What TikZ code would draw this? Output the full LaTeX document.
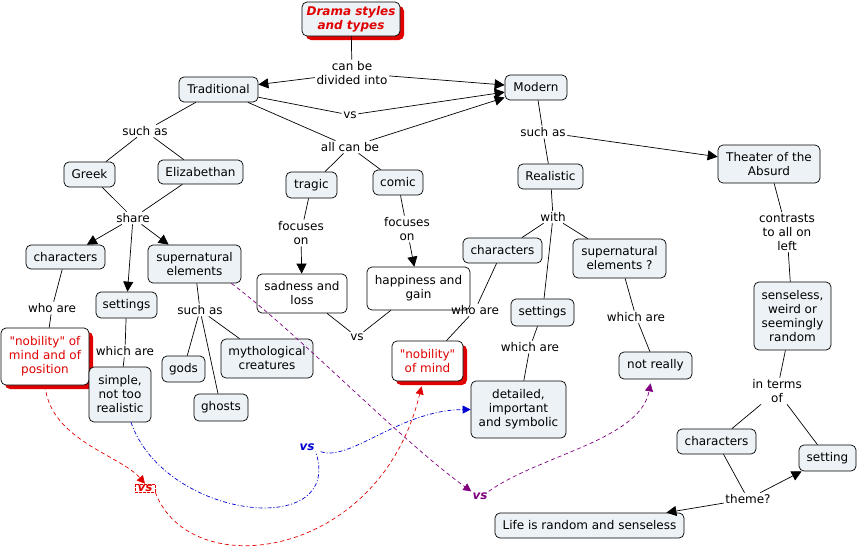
\documentclass[tikz,border=0pt]{standalone}
\usepackage{fontspec}
\setmainfont{DejaVu Sans}[Ligatures=TeXOff]
\usetikzlibrary{arrows.meta,shadows}
\definecolor{nodefill}{RGB}{236,242,245}
\definecolor{cmred}{RGB}{225,0,0}
\definecolor{cmblue}{RGB}{0,0,210}
\definecolor{cmpurple}{RGB}{128,0,128}
\begin{document}
\begin{tikzpicture}[x=1pt,y=-1pt,
 every node/.style={font=\fontsize{12}{14}\selectfont, align=center},
 box/.style={draw, rounded corners=5pt, fill=nodefill, inner sep=1pt, line width=0.7pt},
 wbox/.style={box, fill=white},
 redbox/.style={wbox, text=cmred, drop shadow={shadow xshift=4pt, shadow yshift=-4pt, fill=cmred, opacity=1}},
 lab/.style={fill=white, inner sep=1.5pt},
 ln/.style={line width=0.7pt},
 arr/.style={ln, -{Triangle[length=10pt,width=10pt]}},
 darr/.style={line width=0.7pt, -{Triangle[length=8pt,width=8pt]}},
 vsl/.style={font=\fontsize{12}{14}\selectfont\bfseries\itshape, inner sep=1pt, fill=white},
 redd/.style={cmred, dash pattern=on 4pt off 3pt},
 blued/.style={cmblue, dash pattern=on 4pt off 2pt on 1pt off 2pt},
 purd/.style={cmpurple, dash pattern=on 4pt off 3pt}
]
\useasboundingbox (0,0) rectangle (859,552);
% concepts
\node[box, text=cmred, font=\fontsize{12}{14}\selectfont\bfseries\itshape, minimum width=98pt, minimum height=34pt, drop shadow={shadow xshift=4pt, shadow yshift=-4pt, fill=cmred, opacity=1}] (title) at (351,19) {Drama styles\\and types};
\node[box, minimum width=79pt, minimum height=25pt] (trad) at (218.5,89.5) {Traditional};
\node[box, minimum width=62pt, minimum height=25pt] (modern) at (536,87.5) {Modern};
\node[box, minimum width=51pt, minimum height=25pt] (greek) at (89.5,174.5) {Greek};
\node[box, minimum width=85pt, minimum height=24pt] (eliz) at (200.5,172) {Elizabethan};
\node[box, minimum width=79pt, minimum height=24pt] (charL) at (65.5,257) {characters};
\node[box, minimum width=61pt, minimum height=26pt] (settL) at (126.5,305) {settings};
\node[box, minimum width=93pt, minimum height=38pt] (superL) at (194.5,264) {supernatural\\elements};
\node[redbox, minimum width=88pt, minimum height=57pt] (nobpos) at (45,356.5) {"nobility" of\\mind and of\\position};
\node[box, minimum width=62pt, minimum height=55pt] (simple) at (120,394.5) {simple,\\not too\\realistic};
\node[box, minimum width=43pt, minimum height=26pt] (gods) at (183.5,369) {gods};
\node[box, minimum width=92pt, minimum height=39pt] (myth) at (267,358.5) {mythological\\creatures};
\node[box, minimum width=54pt, minimum height=27pt] (ghosts) at (221,407.5) {ghosts};
\node[box, minimum width=51pt, minimum height=26pt] (tragic) at (311.5,185) {tragic};
\node[box, minimum width=50pt, minimum height=25pt] (comic) at (398,182.5) {comic};
\node[wbox, minimum width=90pt, minimum height=39pt] (sadness) at (302,293.5) {sadness and\\loss};
\node[wbox, minimum width=103pt, minimum height=43pt] (happy) at (418.5,288.5) {happiness and\\gain};
\node[box, minimum width=65pt, minimum height=25pt] (realistic) at (550.5,176.5) {Realistic};
\node[box, minimum width=102pt, minimum height=38pt] (theater) at (769,164) {Theater of the\\Absurd};
\node[box, minimum width=79pt, minimum height=25pt] (charR) at (502.5,250.5) {characters};
\node[box, minimum width=93pt, minimum height=39pt] (superR) at (619.5,258.5) {supernatural\\elements ?};
\node[box, minimum width=63pt, minimum height=27pt] (settR) at (542.5,312.5) {settings};
\node[redbox, minimum width=71pt, minimum height=40pt] (nobmind) at (427.5,361) {"nobility"\\of mind};
\node[box, minimum width=95pt, minimum height=57pt] (detailed) at (518.5,409.5) {detailed,\\important\\and symbolic};
\node[box, minimum width=73pt, minimum height=27pt] (notreally) at (655.5,365.5) {not really};
\node[box, minimum width=77pt, minimum height=68pt] (senseless) at (792.5,316) {senseless,\\weird or\\seemingly\\random};
\node[box, minimum width=79pt, minimum height=25pt] (charA) at (716.5,441.5) {characters};
\node[box, minimum width=57pt, minimum height=26pt] (setting) at (827.5,458) {setting};
\node[box, minimum width=189pt, minimum height=25pt] (life) at (589.5,525.5) {Life is random and senseless};
% linking phrases
\node[lab] (divided) at (352,73) {can be\\divided into};
\node[lab] (vs1) at (350,115) {vs};
\node[lab] (allcan) at (350,147) {all can be};
\node[lab] (suchT) at (145,131) {such as};
\node[lab] (share) at (133,218) {share};
\node[lab] (whoL) at (52,308) {who are};
\node[lab] (whichL) at (125,351) {which are};
\node[lab] (suchS) at (200,310) {such as};
\node[lab] (focT) at (301,233) {focuses\\on};
\node[lab] (focC) at (407,229) {focuses\\on};
\node[lab] (vsM) at (357,337) {vs};
\node[lab] (suchM) at (543,132) {such as};
\node[lab] (with) at (553,217) {with};
\node[lab, fill=none] (whoR) at (475,310) {who are};
\node[lab] (whichR) at (530,347) {which are};
\node[lab] (whichS) at (636,317) {which are};
\node[lab] (contrasts) at (787,232) {contrasts\\to all on\\left};
\node[lab] (interms) at (777,391) {in terms\\of};
\node[lab] (theme) at (748,499) {theme?};
\node[vsl, text=cmred, draw=cmred, dash pattern=on 2.5pt off 1.5pt, line width=0.7pt, inner xsep=2.5pt, inner ysep=0.5pt] (redvs) at (145,488) {vs};
\node[vsl, text=cmblue] (bluevs) at (307,447) {vs};
\node[vsl, text=cmpurple] (purpvs) at (480,496) {vs};
% connectors
\draw[ln] (title) -- (divided);
\draw[arr] (divided) -- (trad);
\draw[arr] (divided) -- (modern);
\draw[ln] (trad) -- (vs1);
\draw[arr] (vs1) -- (modern);
\draw[ln] (trad) -- (allcan);
\draw[arr] (allcan) -- (modern);
\draw[ln] (allcan) -- (tragic);
\draw[ln] (allcan) -- (comic);
\draw[ln] (trad) -- (suchT);
\draw[ln] (suchT) -- (greek);
\draw[ln] (suchT) -- (eliz);
\draw[ln] (greek) -- (share);
\draw[ln] (eliz) -- (share);
\draw[arr] (share) -- (charL);
\draw[arr] (share) -- (settL);
\draw[arr] (share) -- (superL);
\draw[ln] (charL) -- (whoL);
\draw[ln] (whoL) -- (nobpos);
\draw[ln] (settL) -- (whichL);
\draw[ln] (whichL) -- (simple);
\draw[ln] (superL) -- (suchS);
\draw[ln] (suchS) -- (gods);
\draw[ln] (suchS) -- (myth);
\draw[ln] (suchS) -- (ghosts);
\draw[ln] (tragic) -- (focT);
\draw[arr] (focT) -- (sadness);
\draw[ln] (comic) -- (focC);
\draw[arr] (focC) -- (happy);
\draw[ln] (sadness) -- (vsM);
\draw[ln] (vsM) -- (happy);
\draw[ln] (modern) -- (suchM);
\draw[ln] (suchM) -- (realistic);
\draw[arr] (suchM) -- (theater);
\draw[ln] (realistic) -- (with);
\draw[ln] (with) -- (charR);
\draw[ln] (with) -- (settR);
\draw[ln] (with) -- (superR);
\draw[ln] (charR) -- (whoR);
\draw[ln] (whoR) -- (nobmind);
\draw[ln] (settR) -- (whichR);
\draw[ln] (whichR) -- (detailed);
\draw[ln] (superR) -- (whichS);
\draw[ln] (whichS) -- (notreally);
\draw[ln] (theater) -- (contrasts);
\draw[ln] (contrasts) -- (senseless);
\draw[ln] (senseless) -- (interms);
\draw[ln] (interms) -- (charA);
\draw[ln] (interms) -- (setting);
\draw[ln] (charA) -- (theme);
\draw[arr] (theme) -- (life);
\draw[arr] (theme) -- (setting);
% dashed cross links
\draw[redd, darr] (nobpos.south) .. controls (50,440) and (120,455) .. (redvs.north);
\draw[redd, darr] (redvs.south east) .. controls (190,585) and (380,560) .. ([shift={(-6pt,-5pt)}]nobmind.south);
\draw[blued, line width=0.7pt] ([xshift=11pt]simple.south) .. controls (165,520) and (345,540) .. (bluevs.south east);
\draw[blued, darr] ([xshift=5pt]bluevs.south east) .. controls (350,462) and (400,410) .. (detailed.west);
\draw[purd, darr] ([xshift=-10pt]superL.south east) .. controls (300,335) and (400,440) .. (purpvs.north west);
\draw[purd, darr] (purpvs.north east) .. controls (540,455) and (640,440) .. ([shift={(-5pt,-4pt)}]notreally.south);
\end{tikzpicture}
\end{document}
